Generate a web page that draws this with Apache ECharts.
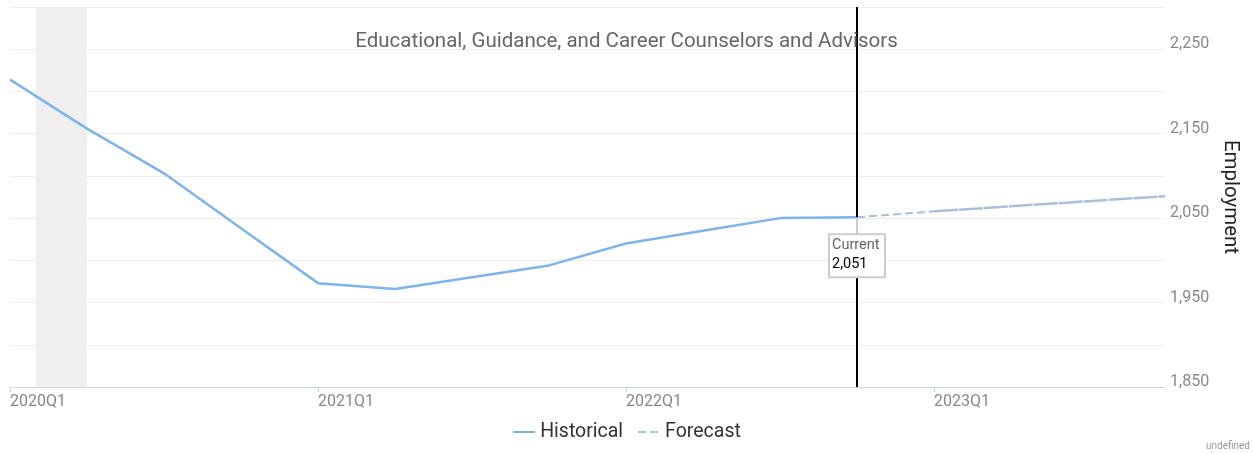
<!DOCTYPE html>
<html>
<head>
<meta charset="utf-8">
<title>Employment</title>
<script src="https://cdn.jsdelivr.net/npm/echarts@6/dist/echarts.min.js"></script>
<style>
  html, body { margin: 0; padding: 0; background: #fff; }
  #chart { width: 1253px; height: 454px; }
</style>
</head>
<body>
<div id="chart"></div>
<script>
// quarters on the x axis
const quarters = [
  '2020Q1', '2020Q2', '2020Q3', '2020Q4',
  '2021Q1', '2021Q2', '2021Q3', '2021Q4',
  '2022Q1', '2022Q2', '2022Q3', '2022Q4',
  '2023Q1', '2023Q2', '2023Q3', '2023Q4'
];
// employment, historical part
const historical = [2214, 2156, 2103, 2038, 1973, 1966, 1980, 1994, 2020, 2035, 2050, 2051, null, null, null, null];
// employment, forecast part (starts at the current quarter)
const forecast = [null, null, null, null, null, null, null, null, null, null, null, 2051, 2058, 2064, 2070, 2076];
// recession months (start, end)
const recession = ['2020-02', '2020-04'];
// index of the "Current" quarter
const currentIndex = 11;

// month string -> position in quarter units
function monthToQuarterPos(s) {
  const parts = s.split('-');
  return (Number(parts[0]) - 2020) * 4 + (Number(parts[1]) - 1) / 3;
}

const histData = quarters.map((q, i) => [i, historical[i]]).filter(d => d[1] != null);
const fcData = quarters.map((q, i) => [i, forecast[i]]).filter(d => d[1] != null);
// first forecast quarter is dashed, the rest is drawn almost solid
const fcHead = fcData.filter(d => d[0] <= currentIndex + 1);
const fcTail = fcData.filter(d => d[0] >= currentIndex + 1);

const chart = echarts.init(document.getElementById('chart'));

const font = 'Roboto';

const option = {
  animation: false,
  title: {
    text: 'Educational, Guidance, and Career Counselors and Advisors',
    left: 'center',
    top: 26,
    textStyle: { fontFamily: font, fontSize: 20.5, fontWeight: 'normal', color: '#666' }
  },
  legend: {
    data: ['Historical', 'Forecast'],
    left: 'center',
    top: 417,
    itemWidth: 22,
    itemHeight: 10,
    itemGap: 14,
    itemStyle: { opacity: 0 },
    textStyle: { fontFamily: font, fontSize: 19.5, color: '#333' }
  },
  grid: { left: 10, right: 88, top: 7, bottom: 67 },
  xAxis: {
    type: 'value',
    min: 0,
    max: quarters.length - 1,
    interval: 4,
    splitLine: { show: false },
    axisLine: { lineStyle: { color: '#ccd6eb' } },
    axisTick: { length: 5, lineStyle: { color: '#ccd6eb' } },
    axisLabel: {
      showMaxLabel: false,
      align: 'left',
      margin: 7,
      fontFamily: font,
      fontSize: 16,
      color: '#888',
      formatter: v => quarters[v] || ''
    }
  },
  yAxis: {
    type: 'value',
    position: 'right',
    min: 1850,
    max: 2300,
    interval: 50,
    name: 'Employment',
    nameLocation: 'middle',
    nameRotate: -90,
    nameGap: 38,
    nameTextStyle: { fontFamily: font, fontSize: 20.5, color: '#222' },
    axisLine: { show: false },
    axisTick: { show: false },
    splitLine: { lineStyle: { color: '#eeeeee' } },
    axisLabel: {
      margin: 5,
      fontFamily: font,
      fontSize: 16,
      color: '#888',
      verticalAlign: 'bottom',
      lineHeight: 10,
      formatter: v => ((v - 1850) % 100 === 0 && v < 2300) ? v.toLocaleString('en-US') : ''
    }
  },
  series: [
    {
      name: 'Historical',
      type: 'line',
      data: histData,
      symbol: 'none',
      z: 4,
      lineStyle: { color: '#7cb5ec', width: 2.5 },
      itemStyle: { color: '#7cb5ec' },
      markArea: {
        silent: true,
        itemStyle: { color: '#efefef' },
        data: [[{ xAxis: monthToQuarterPos(recession[0]) }, { xAxis: monthToQuarterPos(recession[1]) }]]
      },
      markPoint: {
        silent: true,
        z: 6,
        symbol: 'rect',
        symbolSize: [2, 18],
        symbolOffset: [0, 9],
        itemStyle: { color: '#cccccc' },
        label: {
          show: true,
          position: 'bottom',
          distance: 0,
          backgroundColor: '#fff',
          borderColor: '#cccccc',
          borderWidth: 2,
          padding: [1, 2, 2, 2],
          formatter: p => '{a|Current}\n{b|' + historical[currentIndex].toLocaleString('en-US') + '}',
          rich: {
            a: { fontFamily: font, fontSize: 14.5, color: '#666', lineHeight: 19, width: 50, align: 'left' },
            b: { fontFamily: font, fontSize: 14.5, color: '#000', lineHeight: 19, width: 50, align: 'left' }
          }
        },
        data: [{ coord: [currentIndex, historical[currentIndex]] }]
      }
    },
    {
      name: 'Forecast',
      type: 'line',
      data: fcHead,
      symbol: 'none',
      z: 3,
      lineStyle: { color: '#a9bfdc', width: 2, type: [8, 4] },
      itemStyle: { color: '#a9bfdc' },
      markLine: {
        silent: true,
        symbol: ['none', 'none'],
        label: { show: false },
        lineStyle: { color: '#000', width: 2, type: 'solid' },
        data: [{ xAxis: currentIndex }]
      }
    },
    {
      name: 'Forecast',
      type: 'line',
      data: fcTail,
      symbol: 'none',
      z: 3,
      lineStyle: { color: '#a9bfdc', width: 2.5, type: [24, 1] },
      itemStyle: { color: '#a9bfdc' }
    }
  ],
  graphic: [{
    type: 'text',
    right: 3,
    bottom: 3,
    style: { text: 'undefined', fill: '#999', font: '10px ' + font }
  }]
};

chart.setOption(option);
</script>
</body>
</html>
